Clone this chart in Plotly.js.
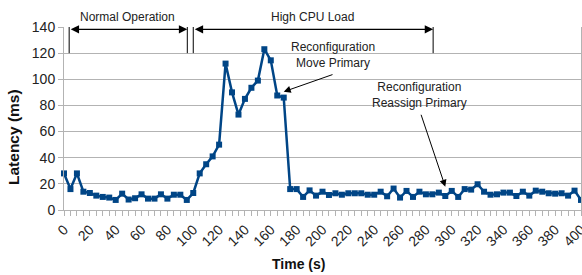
<!DOCTYPE html>
<html>
<head>
<meta charset="utf-8">
<script src="https://cdn.plot.ly/plotly-3.0.1.min.js"></script>
<style>html,body{margin:0;padding:0;background:#fff;}#chart{width:582px;height:275px;}</style>
</head>
<body>
<div id="chart"></div>
<script>
const timeS = [0,5,10,15,20,25,30,35,40,45,50,55,60,65,70,75,80,85,90,95,100,105,110,115,120,125,130,135,140,145,150,155,160,165,170,175,180,185,190,195,200,205,210,215,220,225,230,235,240,245,250,255,260,265,270,275,280,285,290,295,300,305,310,315,320,325,330,335,340,345,350,355,360,365,370,375,380,385,390,395,400];
const latencyMs = [28,16,28,14,13,11,10,9.5,7.7,12.5,8,9,12,8.7,8.7,12,8.7,11.7,11.7,7.7,13,28,35,41,50,112,90,73,85,93.5,99,123,114.5,87.6,86,16,16,10,15,11,14,11.5,12.8,11.7,12.8,12.8,12.8,11.7,11.7,14,10.5,16.4,9.5,14.6,10,14,12,12,13.3,10.7,14.6,10,16,15.6,19.7,14,11.7,12,13.3,13.3,10.7,14,11,14.8,14,12.8,12.5,12.8,11,14.8,7.7];

const xTickVals = [0,20,40,60,80,100,120,140,160,180,200,220,240,260,280,300,320,340,360,380,400];
const yTickVals = [0,20,40,60,80,100,120,140];
const xTitle = "Time (s)";
const yTitle = "Latency (ms)";

const phaseLabels = ["Normal Operation", "High CPU Load"];
const phaseStart = [4, 100];
const phaseEnd = [95.4, 285.6];
const phaseLabelX = [49.5, 192.5];

const noteLabels = ["Reconfiguration<br>Move Primary", "Reconfiguration<br>Reassign Primary"];
const noteTextX = [208, 275];
const noteTextY = [118.5, 88];
const noteTailX = [208.9, 275.9];
const noteTailY = [104, 74];
const noteHeadX = [170, 295];
const noteHeadY = [90.5, 17.8];

const FONT = "Liberation Sans, Arial, sans-serif";
const shapes = [];
const annotations = [];
const bracketTop = 143, bracketBottom = 120, arrowY = 138.2;

for (let i = 0; i < phaseLabels.length; i++) {
  [phaseStart[i], phaseEnd[i]].forEach(xv => {
    shapes.push({type:'line', xref:'x', yref:'y', x0:xv, x1:xv, y0:bracketBottom, y1:bracketTop,
      line:{color:'#000', width:1}});
  });
  annotations.push({x:phaseEnd[i], y:arrowY, xref:'x', yref:'y', ax:phaseStart[i], ay:arrowY, axref:'x', ayref:'y',
    text:'', showarrow:true, arrowside:'end+start', arrowhead:2, startarrowhead:2,
    arrowsize:1.4, startarrowsize:1.4, arrowwidth:1.2, arrowcolor:'#000', standoff:0, startstandoff:0});
  annotations.push({x:phaseLabelX[i], y:148/140, xref:'x', yref:'paper', text:phaseLabels[i], showarrow:false,
    font:{family:FONT, size:12, color:'#222'}, yanchor:'middle'});
}
for (let i = 0; i < noteLabels.length; i++) {
  annotations.push({x:noteTextX[i], y:noteTextY[i], xref:'x', yref:'y', text:noteLabels[i], showarrow:false,
    font:{family:FONT, size:12, color:'#222'}, yanchor:'middle', align:'center'});
  annotations.push({x:noteHeadX[i], y:noteHeadY[i], xref:'x', yref:'y', ax:noteTailX[i], ay:noteTailY[i],
    axref:'x', ayref:'y', text:'', showarrow:true, arrowhead:2, arrowsize:1.4, arrowwidth:1, arrowcolor:'#000', standoff:0});
}
// axis titles (offset from plot centre as in the reference)
annotations.push({x:0.4545, y:-0.295, xref:'paper', yref:'paper', text:'<b>'+xTitle+'</b>', showarrow:false,
  xanchor:'center', yanchor:'middle', font:{family:FONT, size:14, color:'#111'}});
annotations.push({x:-0.0967, y:0.399, xref:'paper', yref:'paper', text:'<b>'+yTitle+'</b>', showarrow:false,
  textangle:-90, xanchor:'center', yanchor:'middle', font:{family:FONT, size:15.5, color:'#111'}});

const trace = {
  x: timeS, y: latencyMs, type:'scatter', mode:'lines+markers',
  line:{color:'#004586', width:2.5},
  marker:{symbol:'square', size:6, color:'#004586'},
  cliponaxis:false, hoverinfo:'skip'
};

const layout = {
  width:582, height:275,
  margin:{l:64, r:1, t:27, b:65},
  paper_bgcolor:'#fff', plot_bgcolor:'#fff',
  showlegend:false,
  font:{family:FONT, size:14, color:'#222'},
  xaxis:{
    range:[0,400], tickmode:'array', tickvals:xTickVals, ticktext:xTickVals.map(String), tickangle:-45,
    showgrid:false, zeroline:false,
    showline:true, linecolor:'#b3b3b3', linewidth:1, mirror:false,
    ticks:'outside', ticklen:5, tickcolor:'#b3b3b3',
    minor:{dtick:5, tick0:0, ticks:'outside', ticklen:5, tickcolor:'#b3b3b3'},
    tickfont:{family:FONT, size:14, color:'#222'},
    ticklabeloverflow:'allow',
    automargin:false
  },
  yaxis:{
    range:[0,140], tickmode:'array', tickvals:yTickVals, ticktext:yTickVals.map(String),
    showgrid:true, gridcolor:'#b3b3b3', gridwidth:1, zeroline:false,
    showline:true, linecolor:'#b3b3b3', linewidth:1, mirror:true,
    ticks:'outside', ticklen:5, tickcolor:'#b3b3b3',
    tickfont:{family:FONT, size:14, color:'#222'},
    automargin:false
  },
  shapes: shapes,
  annotations: annotations
};

Plotly.newPlot('chart', [trace], layout, {displayModeBar:false, staticPlot:true});
</script>
</body>
</html>
